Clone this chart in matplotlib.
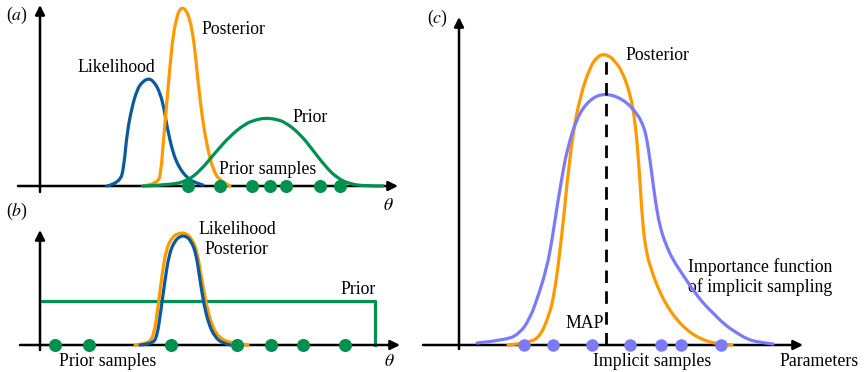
import matplotlib
matplotlib.use("Agg")
import matplotlib.pyplot as plt
from matplotlib.path import Path
from matplotlib.patches import PathPatch

plt.rcParams['font.family'] = ['Liberation Serif', 'DejaVu Serif']
plt.rcParams['mathtext.fontset'] = 'stix'

# ---------------- data (x and height units) ----------------
# Panel (a)
a_like_x = [67, 80, 84, 87, 92, 97, 102, 109, 115, 120, 124, 127, 133, 138, 143, 148, 153, 163]
a_like_y = [0, 3, 20, 53, 79, 96, 104, 108, 103, 93, 78, 59, 33, 21, 13, 8, 4, 1]
a_post_x = [103, 118, 121, 123, 127, 130, 133, 137, 140, 143, 146, 150, 153, 155, 158, 162, 167, 173, 180, 190]
a_post_y = [0, 2, 15, 40, 86, 120, 150, 170, 177, 178, 176, 166, 150, 135, 105, 70, 40, 16, 5, 0]
a_prior_x = [103, 130, 147, 160, 175, 190, 205, 215, 225, 235, 245, 260, 272, 285, 297, 310, 325, 343]
a_prior_y = [0, 1, 5, 15, 33, 50, 62, 66, 68, 67, 64, 52, 37, 20, 8, 2, 0, 0]
a_samples = [148, 180, 212, 230, 246, 280, 300]

# Panel (b)
b_like_x = [100, 112, 117, 121, 125, 129, 134, 140, 146, 151, 156, 160, 164, 169, 175, 182, 190]
b_like_y = [0, 1, 8, 35, 65, 90, 103, 109, 109, 104, 92, 65, 40, 20, 8, 2, 0]
b_post_x = [95, 108, 114, 118, 122, 126, 132, 139, 146, 152, 157, 161, 166, 171, 178, 190, 208]
b_post_y = [0, 1, 10, 38, 70, 95, 108, 112, 112, 106, 94, 70, 42, 22, 8, 2, 0]
b_prior_x = [0, 335, 335]
b_prior_y = [44, 44, 0]
b_samples = [15, 49, 131, 197, 231, 263, 305]

# Panel (c)
c_post_x = [49, 71, 82, 90, 94, 98, 101, 105, 108, 114, 121, 131, 138, 144, 150, 155, 163, 171,
            176, 180, 183, 186, 191, 201, 210, 218, 228, 238, 250, 261, 273]
c_post_y = [0, 2, 10, 30, 45, 70, 95, 130, 162, 212, 248, 278, 288, 291, 289, 285, 274, 252,
            225, 180, 130, 100, 78, 52, 36, 25, 15, 8, 3, 1, 0]
c_imp_x = [18, 48, 61, 70, 78, 88, 93, 98, 103, 108, 118, 131, 146, 164, 178, 185, 188, 191,
           194, 197, 201, 207, 214, 224, 234, 244, 254, 266, 278, 288, 298, 314]
c_imp_y = [2, 5, 12, 25, 45, 78, 105, 138, 168, 195, 228, 246, 252, 246, 232, 218, 205, 185,
           162, 140, 118, 100, 85, 70, 55, 42, 32, 20, 12, 6, 3, 1]
c_map_x = 147
c_map_top = 290
c_samples = [65, 94, 133, 171, 202, 222, 262]

# ---------------- styling ----------------
ORANGE = '#ff9900'
BLUE = '#0a5a9c'
GREEN = '#00904f'
PURPLE = '#7b7bf7'
LW = 2.3
FS = 12.8
W, H = 864, 372

fig = plt.figure(figsize=(W / 100, H / 100), dpi=100)


def make_ax(px0, px1, py0, py1, ox, oy):
    """axes covering pixel box, with data origin at pixel (ox, oy); 1 unit = 1 px"""
    ax = fig.add_axes([px0 / W, 1 - py1 / H, (px1 - px0) / W, (py1 - py0) / H])
    ax.set_xlim(px0 - ox, px1 - ox)
    ax.set_ylim(oy - py1, oy - py0)
    ax.axis('off')
    return ax


def arrow_axes(ax, x0, x1, y0, y1):
    kw = dict(arrowstyle='-|>', lw=1.8, color='k', mutation_scale=14,
              shrinkA=0, shrinkB=0)
    ax.annotate('', xy=(x1, 0), xytext=(x0, 0), arrowprops=kw)
    ax.annotate('', xy=(0, y1), xytext=(0, y0), arrowprops=kw)


def curve(ax, x, y, color, z=3):
    """smooth path: data points act as quadratic Bezier control points"""
    pts = list(zip(x, y))
    verts = [pts[0]]
    codes = [Path.MOVETO]
    for i in range(1, len(pts) - 1):
        mid = ((pts[i][0] + pts[i + 1][0]) / 2, (pts[i][1] + pts[i + 1][1]) / 2)
        verts += [pts[i], mid if i < len(pts) - 2 else pts[i + 1]]
        codes += [Path.CURVE3, Path.CURVE3]
    patch = PathPatch(Path(verts, codes), fill=False, edgecolor=color, lw=LW,
                      capstyle='round', joinstyle='round', zorder=z)
    ax.add_patch(patch)


def dots(ax, xs, color, ms=9.4):
    ax.plot(xs, [0] * len(xs), 'o', color=color, ms=ms, mec='none', zorder=6)


# Panel (a)
axa = make_ax(0, 420, 0, 220, 40, 186)
arrow_axes(axa, -22, 358, -6, 181)
curve(axa, a_like_x, a_like_y, BLUE)
curve(axa, a_post_x, a_post_y, ORANGE)
curve(axa, a_prior_x, a_prior_y, GREEN, z=4)
dots(axa, a_samples, GREEN)
axa.text(-23, 171, r'($a$)', fontsize=FS, ha='center', va='center')
axa.text(161, 156, 'Posterior', fontsize=FS, ha='left', va='center')
axa.text(37, 118, 'Likelihood', fontsize=FS, ha='left', va='center')
axa.text(252, 69, 'Prior', fontsize=FS, ha='left', va='center')
axa.text(179, 16, 'Prior samples', fontsize=FS, ha='left', va='center')
axa.text(348, -19, r'$\theta$', fontsize=FS, ha='center', va='center')

# Panel (b)
axb = make_ax(0, 420, 220, 372, 40, 345)
arrow_axes(axb, -20, 360, -5, 115)
curve(axb, b_post_x, b_post_y, ORANGE)
curve(axb, b_like_x, b_like_y, BLUE, z=4)
axb.plot(b_prior_x, b_prior_y, color=GREEN, lw=LW, zorder=2)
dots(axb, b_samples, GREEN)
axb.text(-23, 134, r'($b$)', fontsize=FS, ha='center', va='center')
axb.text(158, 115, 'Likelihood', fontsize=FS, ha='left', va='center')
axb.text(164, 96, 'Posterior', fontsize=FS, ha='left', va='center')
axb.text(300, 55, 'Prior', fontsize=FS, ha='left', va='center')
axb.text(19, -17, 'Prior samples', fontsize=FS, ha='left', va='center')
axb.text(349, -17, r'$\theta$', fontsize=FS, ha='center', va='center')

# Panel (c)
axc = make_ax(420, 864, 0, 372, 459, 345)
arrow_axes(axc, -36, 344, -4, 328)
curve(axc, c_post_x, c_post_y, ORANGE)
curve(axc, c_imp_x, c_imp_y, PURPLE, z=4)
axc.plot([c_map_x, c_map_x], [0, c_map_top], color='k', lw=2.0,
         dashes=(4.5, 3), zorder=5)
dots(axc, c_samples, PURPLE, ms=9.0)
axc.text(-22, 327, r'($c$)', fontsize=FS, ha='center', va='center')
axc.text(166, 290, 'Posterior', fontsize=FS, ha='left', va='center')
axc.text(229, 78, 'Importance function', fontsize=FS, ha='left', va='center')
axc.text(229, 58, 'of implicit sampling', fontsize=FS, ha='left', va='center')
axc.text(106, 22, 'MAP', fontsize=FS, ha='left', va='center')
axc.text(134, -17, 'Implicit samples', fontsize=FS, ha='left', va='center')
axc.text(320, -17, 'Parameters', fontsize=FS, ha='left', va='center')

fig.savefig('out.png', dpi=100)
